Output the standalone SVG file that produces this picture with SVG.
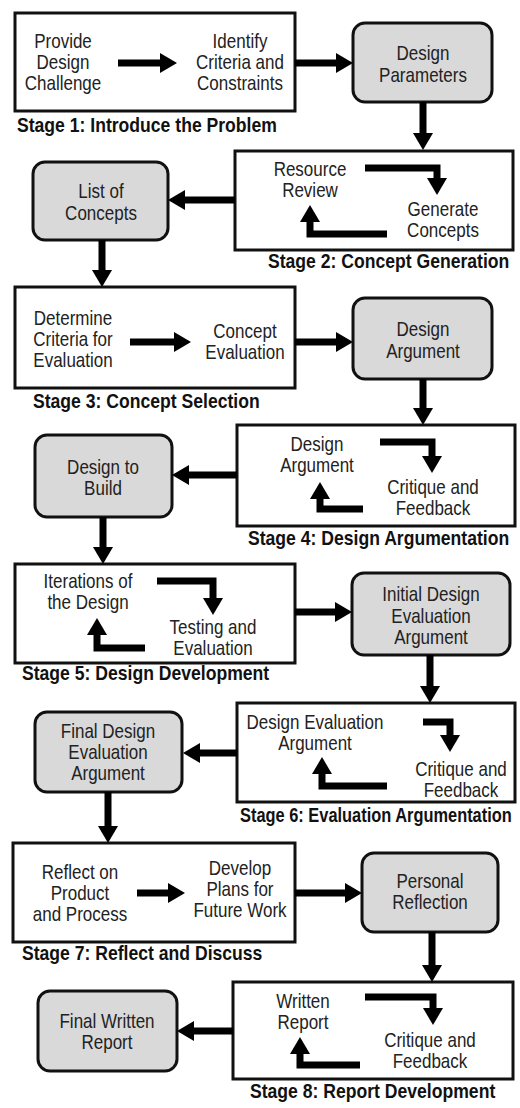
<svg xmlns="http://www.w3.org/2000/svg" width="520" height="1108" viewBox="0 0 520 1108">
<defs>
<marker id="ah" markerUnits="userSpaceOnUse" markerWidth="18" markerHeight="20" refX="0" refY="10" orient="auto">
<path d="M0,0 L17,10 L0,20 z" fill="#000"/>
</marker>
<style>
.stage{fill:#fff;stroke:#111;stroke-width:3}
.out{fill:#d9d9d9;stroke:#111;stroke-width:3}
.t{font-family:"Liberation Sans",Arial,sans-serif;font-size:17px;fill:#222;text-anchor:middle}
.lbl{font-family:"Liberation Sans",Arial,sans-serif;font-size:17.6px;font-weight:bold;fill:#111}
.ar{fill:none;stroke:#000;stroke-width:7;stroke-linejoin:miter;marker-end:url(#ah)}
</style>
</defs>
<rect width="520" height="1108" fill="#fff"/>

<g id="stage1">
<rect class="stage" x="15" y="13" width="280" height="98"/>
<text class="t" transform="translate(63,48) scale(1,1.2)"><tspan x="0" y="0">Provide</tspan><tspan x="0" y="17.5">Design</tspan><tspan x="0" y="35">Challenge</tspan></text>
<text class="t" transform="translate(240,48) scale(1,1.2)"><tspan x="0" y="0">Identify</tspan><tspan x="0" y="17.5">Criteria and</tspan><tspan x="0" y="35">Constraints</tspan></text>
<text class="lbl" transform="translate(17,132) scale(1,1.2)">Stage 1: Introduce the Problem</text>
</g>
<g id="design-parameters">
<rect class="out" x="353" y="23" width="139" height="79" rx="12"/>
<text class="t" transform="translate(423,60) scale(1,1.2)"><tspan x="0" y="0">Design</tspan><tspan x="0" y="18">Parameters</tspan></text>
</g>

<g id="stage2">
<rect class="stage" x="235" y="151" width="278" height="99"/>
<text class="t" transform="translate(310,176) scale(1,1.2)"><tspan x="0" y="0">Resource</tspan><tspan x="0" y="17.5">Review</tspan></text>
<text class="t" transform="translate(443,216) scale(1,1.2)"><tspan x="0" y="0">Generate</tspan><tspan x="0" y="17.5">Concepts</tspan></text>
<text class="lbl" transform="translate(268,268) scale(1,1.2)">Stage 2: Concept Generation</text>
</g>
<g id="list-of-concepts">
<rect class="out" x="33" y="162" width="135" height="78" rx="12"/>
<text class="t" transform="translate(101,198) scale(1,1.2)"><tspan x="0" y="0">List of</tspan><tspan x="0" y="18">Concepts</tspan></text>
</g>

<g id="stage3">
<rect class="stage" x="15" y="287" width="280" height="101"/>
<text class="t" transform="translate(73,325) scale(1,1.2)"><tspan x="0" y="0">Determine</tspan><tspan x="0" y="17.5">Criteria for</tspan><tspan x="0" y="35">Evaluation</tspan></text>
<text class="t" transform="translate(245,338) scale(1,1.2)"><tspan x="0" y="0">Concept</tspan><tspan x="0" y="17.5">Evaluation</tspan></text>
<text class="lbl" transform="translate(33,408) scale(1,1.2)">Stage 3: Concept Selection</text>
</g>
<g id="design-argument">
<rect class="out" x="353" y="298" width="139" height="81" rx="12"/>
<text class="t" transform="translate(423,336) scale(1,1.2)"><tspan x="0" y="0">Design</tspan><tspan x="0" y="18">Argument</tspan></text>
</g>

<g id="stage4">
<rect class="stage" x="237" y="425" width="278" height="101"/>
<text class="t" transform="translate(317,451) scale(1,1.2)"><tspan x="0" y="0">Design</tspan><tspan x="0" y="17.5">Argument</tspan></text>
<text class="t" transform="translate(433,494) scale(1,1.2)"><tspan x="0" y="0">Critique and</tspan><tspan x="0" y="17.5">Feedback</tspan></text>
<text class="lbl" transform="translate(248,545) scale(1,1.2)">Stage 4: Design Argumentation</text>
</g>
<g id="design-to-build">
<rect class="out" x="35" y="435" width="137" height="82" rx="12"/>
<text class="t" transform="translate(103,474) scale(1,1.2)"><tspan x="0" y="0">Design to</tspan><tspan x="0" y="17.5">Build</tspan></text>
</g>

<g id="stage5">
<rect class="stage" x="15" y="564" width="280" height="99"/>
<text class="t" transform="translate(88,588) scale(1,1.2)"><tspan x="0" y="0">Iterations of</tspan><tspan x="0" y="17.5">the Design</tspan></text>
<text class="t" transform="translate(213,634) scale(1,1.2)"><tspan x="0" y="0">Testing and</tspan><tspan x="0" y="17.5">Evaluation</tspan></text>
<text class="lbl" transform="translate(22,680) scale(1,1.2)">Stage 5: Design Development</text>
</g>
<g id="initial-design-evaluation-argument">
<rect class="out" x="352" y="573" width="158" height="82" rx="12"/>
<text class="t" transform="translate(431,601) scale(1,1.2)"><tspan x="0" y="0">Initial Design</tspan><tspan x="0" y="18">Evaluation</tspan><tspan x="0" y="36">Argument</tspan></text>
</g>

<g id="stage6">
<rect class="stage" x="237" y="703" width="278" height="99"/>
<text class="t" transform="translate(315,729) scale(1,1.2)"><tspan x="0" y="0">Design Evaluation</tspan><tspan x="0" y="17.5">Argument</tspan></text>
<text class="t" transform="translate(461,776) scale(1,1.2)"><tspan x="0" y="0">Critique and</tspan><tspan x="0" y="17.5">Feedback</tspan></text>
<text class="lbl" style="font-size:16.4px" transform="translate(240,822) scale(1,1.2)">Stage 6: Evaluation Argumentation</text>
</g>
<g id="final-design-evaluation-argument">
<rect class="out" x="35" y="712" width="147" height="80" rx="12"/>
<text class="t" transform="translate(108,738) scale(1,1.2)"><tspan x="0" y="0">Final Design</tspan><tspan x="0" y="17.5">Evaluation</tspan><tspan x="0" y="35">Argument</tspan></text>
</g>

<g id="stage7">
<rect class="stage" x="13" y="843" width="282" height="99"/>
<text class="t" transform="translate(80,879) scale(1,1.2)"><tspan x="0" y="0">Reflect on</tspan><tspan x="0" y="17.5">Product</tspan><tspan x="0" y="35">and Process</tspan></text>
<text class="t" transform="translate(240,875) scale(1,1.2)"><tspan x="0" y="0">Develop</tspan><tspan x="0" y="17.5">Plans for</tspan><tspan x="0" y="35">Future Work</tspan></text>
<text class="lbl" transform="translate(22,960) scale(1,1.2)">Stage 7: Reflect and Discuss</text>
</g>
<g id="personal-reflection">
<rect class="out" x="362" y="853" width="136" height="79" rx="12"/>
<text class="t" transform="translate(430,888) scale(1,1.2)"><tspan x="0" y="0">Personal</tspan><tspan x="0" y="17.5">Reflection</tspan></text>
</g>

<g id="stage8">
<rect class="stage" x="233" y="982" width="280" height="97"/>
<text class="t" transform="translate(303,1008) scale(1,1.2)"><tspan x="0" y="0">Written</tspan><tspan x="0" y="17.5">Report</tspan></text>
<text class="t" transform="translate(430,1047) scale(1,1.2)"><tspan x="0" y="0">Critique and</tspan><tspan x="0" y="17.5">Feedback</tspan></text>
<text class="lbl" transform="translate(250,1098) scale(1,1.2)">Stage 8: Report Development</text>
</g>
<g id="final-written-report">
<rect class="out" x="38" y="991" width="139" height="80" rx="12"/>
<text class="t" transform="translate(107,1028) scale(1,1.2)"><tspan x="0" y="0">Final Written</tspan><tspan x="0" y="17.5">Report</tspan></text>
</g>

<g id="connectors">
<path class="ar" d="M118,63 H160"/>
<path class="ar" d="M295,63 H336"/>
<path class="ar" d="M423,102 V133"/>
<path class="ar" d="M365,168 H437 V178"/>
<path class="ar" d="M387,234 H310 V222"/>
<path class="ar" d="M235,200 H185"/>
<path class="ar" d="M102,240 V270"/>
<path class="ar" d="M130,342 H174"/>
<path class="ar" d="M295,342 H336"/>
<path class="ar" d="M423,379 V408"/>
<path class="ar" d="M380,442 H432 V456"/>
<path class="ar" d="M363,509 H320 V499"/>
<path class="ar" d="M237,475 H189"/>
<path class="ar" d="M103,517 V547"/>
<path class="ar" d="M157,581 H213 V598"/>
<path class="ar" d="M145,648 H97 V635"/>
<path class="ar" d="M295,612 H335"/>
<path class="ar" d="M430,655 V686"/>
<path class="ar" d="M423,722 H450 V735"/>
<path class="ar" d="M387,786 H322 V774"/>
<path class="ar" d="M237,753 H200"/>
<path class="ar" d="M108,792 V826"/>
<path class="ar" d="M137,893 H168"/>
<path class="ar" d="M295,893 H345"/>
<path class="ar" d="M432,932 V965"/>
<path class="ar" d="M365,997 H433 V1008"/>
<path class="ar" d="M360,1065 H300 V1054"/>
<path class="ar" d="M233,1031 H194"/>
</g>
</svg>
